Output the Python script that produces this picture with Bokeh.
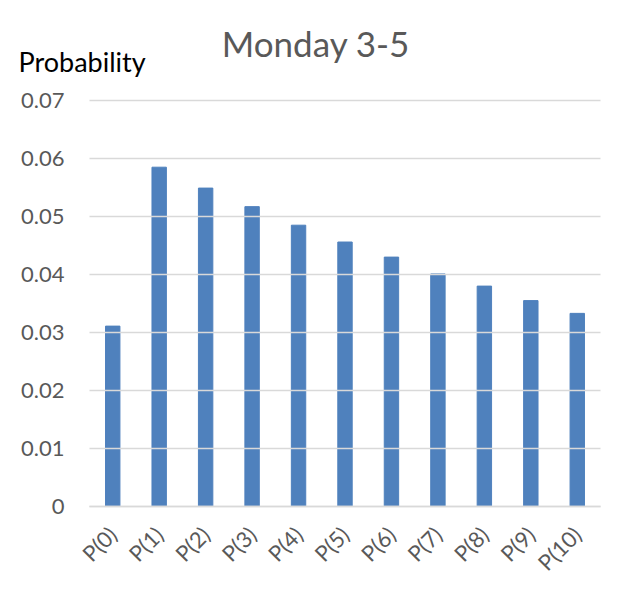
from math import pi

from bokeh.embed import file_html
from bokeh.models import FixedTicker, Label, NumeralTickFormatter, Range1d
from bokeh.plotting import figure
from bokeh.resources import INLINE

# Poisson-style probabilities for Monday 3-5
categories = ["P(0)", "P(1)", "P(2)", "P(3)", "P(4)", "P(5)",
              "P(6)", "P(7)", "P(8)", "P(9)", "P(10)"]
probabilities = [0.0311, 0.0585, 0.0549, 0.0517, 0.0485, 0.0456,
                 0.0430, 0.0401, 0.0380, 0.0355, 0.0333]
y_ticks = [0.0, 0.01, 0.02, 0.03, 0.04, 0.05, 0.06, 0.07]
y_max = 0.07

title_text = "Monday 3-5"
y_label_text = "Probability"

FONT = "Lato"
GREY_TEXT = "#595959"
GRID = "#D9D9D9"
BAR = "#4F81BD"

# canvas and plotting-area geometry (pixels)
W, H = 629, 596
AREA_L, AREA_R, AREA_T, AREA_B = 89, 600, 100, 506

n = len(categories)
x_pos = list(range(n))
px_per_cat = (AREA_R - AREA_L) / n
px_per_unit = (AREA_B - AREA_T) / y_max

# the frame fills the whole canvas; axes are pinned inside it
x_range = Range1d(-0.5 - AREA_L / px_per_cat, n - 0.5 + (W - AREA_R) / px_per_cat)
y_range = Range1d(-(H - AREA_B) / px_per_unit, y_max + AREA_T / px_per_unit)

p = figure(
    width=W, height=H,
    x_range=x_range, y_range=y_range,
    min_border=0,
    output_backend="svg",
    toolbar_location=None,
    background_fill_color="white",
    border_fill_color="white",
)
p.outline_line_color = None
p.xgrid.grid_line_color = None
p.ygrid.grid_line_color = None

p.vbar(x=x_pos, top=probabilities, width=0.31, bottom=0,
       fill_color=BAR, line_color=BAR)

# y axis pinned at the left edge of the bar area; long inward ticks act as gridlines
yax = p.yaxis[0]
yax.fixed_location = -0.5
yax.bounds = (0, y_max)
yax.ticker = FixedTicker(ticks=y_ticks)
yax.formatter = NumeralTickFormatter(format="0.[00]")
yax.axis_line_color = None
yax.major_tick_in = AREA_R - AREA_L
yax.major_tick_out = 0
yax.major_tick_line_color = GRID
yax.major_tick_line_width = 1.5
yax.minor_tick_line_color = None
yax.major_label_standoff = 25
yax.major_label_text_font = FONT
yax.major_label_text_font_size = "22px"
yax.major_label_text_color = GREY_TEXT

# x axis pinned at zero with slanted category labels
xax = p.xaxis[0]
xax.fixed_location = 0
xax.bounds = (-0.5, n - 0.5)
xax.ticker = FixedTicker(ticks=x_pos)
xax.major_label_overrides = {i: c for i, c in zip(x_pos, categories)}
xax.axis_line_color = GRID
xax.axis_line_width = 1.5
xax.major_tick_line_color = None
xax.minor_tick_line_color = None
xax.major_label_orientation = pi / 4
xax.major_label_standoff = 18
xax.major_label_text_font = FONT
xax.major_label_text_font_size = "22px"
xax.major_label_text_color = GREY_TEXT

# chart title, centred over the chart
p.add_layout(Label(
    x=(W / 2 + 1 - AREA_L) / px_per_cat - 0.5,
    y=y_max + (AREA_T - 42) / px_per_unit,
    text=title_text, text_align="center", text_baseline="alphabetic",
    text_font=FONT, text_font_size="35px", text_color=GREY_TEXT,
))

# value caption above the tick labels
p.add_layout(Label(
    x=(18 - AREA_L) / px_per_cat - 0.5,
    y=y_max + (AREA_T - 61) / px_per_unit,
    text=y_label_text, text_align="left", text_baseline="alphabetic",
    text_font=FONT, text_font_size="27px", text_color="black",
))

open("out.html", "w").write(file_html(p, INLINE))
